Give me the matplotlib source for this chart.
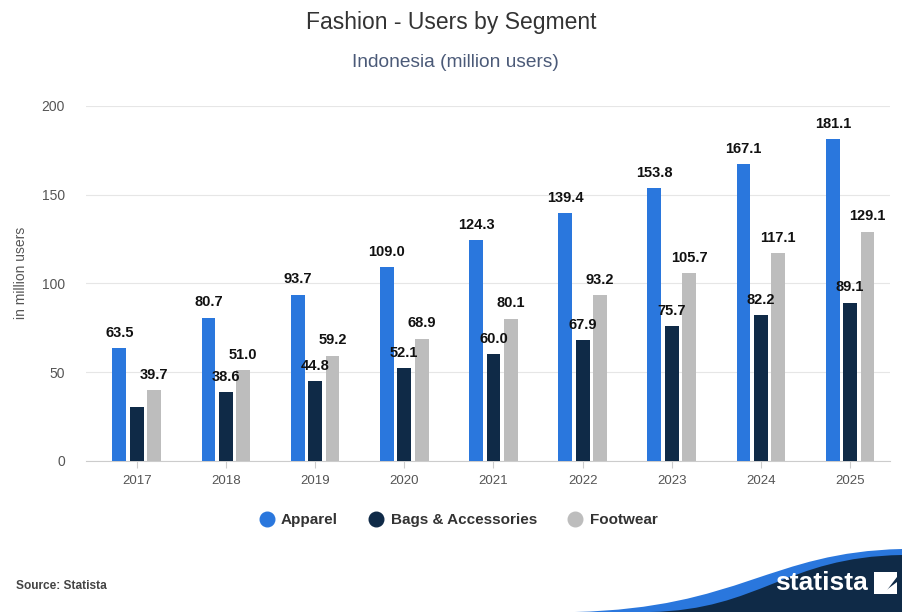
import matplotlib.pyplot as plt
import numpy as np
from matplotlib.path import Path
from matplotlib.patches import PathPatch, Polygon

years = ["2017", "2018", "2019", "2020", "2021", "2022", "2023", "2024", "2025"]
apparel = [63.5, 80.7, 93.7, 109.0, 124.3, 139.4, 153.8, 167.1, 181.1]
bags = [30.3, 38.6, 44.8, 52.1, 60.0, 67.9, 75.7, 82.2, 89.1]
footwear = [39.7, 51.0, 59.2, 68.9, 80.1, 93.2, 105.7, 117.1, 129.1]
series_names = ["Apparel", "Bags & Accessories", "Footwear"]
colors = ["#2a77dd", "#0f2a47", "#bdbdbd"]

plt.rcParams['font.family'] = ['Liberation Sans', 'DejaVu Sans']

fig = plt.figure(figsize=(9.02, 6.12), dpi=100)
ax = fig.add_axes([0.095, 0.247, 0.892, 0.58])

x = np.arange(len(years))
w = 0.155
gap = 0.195
for i, (vals, name, c) in enumerate(zip([apparel, bags, footwear], series_names, colors)):
    pos = x + (i - 1) * gap
    ax.bar(pos, vals, width=w, color=c, label=name, zorder=3)
    for j, (p, v) in enumerate(zip(pos, vals)):
        if i == 1 and j == 0:
            continue  # no label shown for this bar
        ax.annotate(f"{v:.1f}", (p, v), xytext=(0, 6), textcoords="offset points",
                    ha="center", va="bottom", fontsize=10.5, fontweight="bold", color="#111111", zorder=4)

ax.set_xlim(-0.572, len(years) - 0.55)
ax.set_ylim(0, 200)
ax.set_yticks([0, 50, 100, 150, 200])
ax.set_xticks(x)
ax.set_xticklabels(years)
ax.grid(axis="y", color="#e6e6e6", linewidth=0.8, zorder=0)
for s in ["top", "right", "left"]:
    ax.spines[s].set_visible(False)
ax.spines["bottom"].set_color("#cccccc")
ax.tick_params(axis="y", length=0, pad=15, labelsize=10, labelcolor="#555555")
ax.tick_params(axis="x", length=5, color="#cccccc", pad=5, labelsize=9.5, labelcolor="#555555")
ax.set_ylabel("in million users", fontsize=10, color="#555555")
ax.yaxis.set_label_coords(-0.072, 0.53)

fig.text(0.5, 0.963, "Fashion - Users by Segment", ha="center", va="center", fontsize=16.5, color="#333333")
fig.text(0.505, 0.898, "Indonesia (million users)", ha="center", va="center", fontsize=13.8, color="#4b5a78")

handles = [plt.Line2D([0], [0], marker="o", linestyle="", markersize=10.5, markerfacecolor=c, markeredgecolor=c)
           for c in colors]
leg = fig.legend(handles, series_names, loc="center", bbox_to_anchor=(0.508, 0.150), ncol=3, frameon=False,
                 handlelength=1.0, handletextpad=0.45, columnspacing=2.0, prop={"weight": "bold", "size": 11})
for t in leg.get_texts():
    t.set_color("#333333")

fig.text(0.018, 0.042, "Source: Statista", ha="left", va="center", fontsize=8.6, fontweight="bold", color="#444444")

# footer swoosh
def fx(px):
    return px / 902
def fy(py):
    return 1 - py / 612

blue = Path([(fx(575), fy(612)), (fx(740), fy(608)), (fx(770), fy(552)), (fx(902), fy(549)),
             (fx(902), fy(612)), (fx(575), fy(612))],
            [Path.MOVETO, Path.CURVE4, Path.CURVE4, Path.CURVE4, Path.LINETO, Path.CLOSEPOLY])
fig.patches.append(PathPatch(blue, transform=fig.transFigure, facecolor="#2a77dd", edgecolor="none"))
dark = Path([(fx(650), fy(612)), (fx(760), fy(610)), (fx(785), fy(557)), (fx(902), fy(555)),
             (fx(902), fy(612)), (fx(650), fy(612))],
            [Path.MOVETO, Path.CURVE4, Path.CURVE4, Path.CURVE4, Path.LINETO, Path.CLOSEPOLY])
fig.patches.append(PathPatch(dark, transform=fig.transFigure, facecolor="#0f2a47", edgecolor="none"))
fig.text(fx(821), fy(583), "statista", ha="center", va="center", fontsize=19, fontweight="bold", color="white")
fig.patches.append(Polygon([(fx(874), fy(572)), (fx(897), fy(572)), (fx(897), fy(577)), (fx(884), fy(594)),
                            (fx(874), fy(594))], closed=True, transform=fig.transFigure,
                           facecolor="white", edgecolor="none"))
fig.patches.append(Polygon([(fx(881), fy(594)), (fx(897), fy(582)), (fx(897), fy(594))], closed=True,
                           transform=fig.transFigure, facecolor="white", edgecolor="none"))

fig.savefig("out.png", dpi=100)
